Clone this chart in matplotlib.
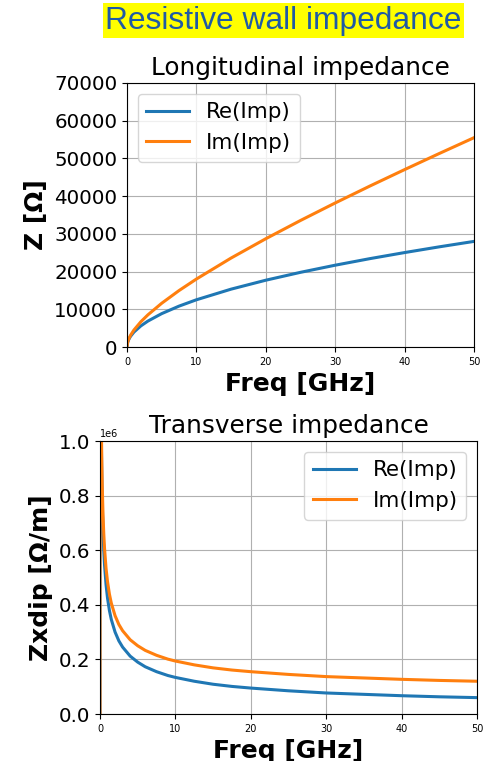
import matplotlib
matplotlib.use("Agg")
import matplotlib.pyplot as plt

# Longitudinal impedance (Ohm) vs frequency (GHz)
freq_long = [0, 0.1, 0.25, 0.5, 1, 2, 3, 5, 7.5, 10, 15, 20, 25, 30, 35, 40, 45, 50]
re_long = [0, 1250, 1980, 2800, 3960, 5600, 6860, 8850, 10840, 12520, 15340, 17710,
           19800, 21690, 23430, 25040, 26560, 28000]
im_long = [0, 1310, 2120, 3075, 4510, 6700, 8510, 11600, 14970, 18020, 23590, 28710,
           33550, 38190, 42680, 47040, 51310, 55500]
long_yticks = [0, 10000, 20000, 30000, 40000, 50000, 60000, 70000]

# Transverse dipolar impedance (units of 1e6 Ohm/m) vs frequency (GHz)
freq_trans = [0, 0.01, 0.05, 0.1, 0.15, 0.2, 0.25, 0.3, 0.4, 0.5, 0.6, 0.8, 1,
              1.25, 1.5, 2, 2.5, 3, 4, 5, 6, 7.5, 9, 10, 12.5, 15, 17.5, 20,
              25, 30, 35, 40, 45, 50]
re_trans = [0, 4.24, 1.896, 1.341, 1.095, 0.948, 0.848, 0.774, 0.670, 0.600,
            0.547, 0.474, 0.424, 0.379, 0.346, 0.300, 0.268, 0.245, 0.212,
            0.190, 0.173, 0.155, 0.141, 0.134, 0.120, 0.109, 0.101, 0.095,
            0.085, 0.077, 0.072, 0.067, 0.063, 0.060]
im_trans = [0, 4.30, 1.956, 1.401, 1.155, 1.008, 0.908, 0.834, 0.730, 0.660,
            0.607, 0.534, 0.484, 0.439, 0.406, 0.360, 0.328, 0.305, 0.272,
            0.250, 0.233, 0.215, 0.201, 0.194, 0.180, 0.169, 0.161, 0.155,
            0.145, 0.137, 0.132, 0.127, 0.123, 0.120]

fig = plt.figure(figsize=(4.83, 7.61), dpi=100)

fig.text(283.5 / 483, 0.973, 'Resistive wall impedance', ha='center', va='center',
         fontsize=22.9, color='#1f5aa6', family='Liberation Sans',
         bbox=dict(facecolor='yellow', edgecolor='none', pad=1.5))

# --- Longitudinal ---
ax1 = fig.add_axes([127 / 483, 414 / 761, 347 / 483, 264 / 761])
ax1.plot(freq_long, re_long, label='Re(Imp)', color='#1f77b4', linewidth=2.2)
ax1.plot(freq_long, im_long, label='Im(Imp)', color='#ff7f0e', linewidth=2.2)
ax1.set_xlim(0, 50)
ax1.set_ylim(0, 70000)
ax1.set_yticks(long_yticks)
ax1.set_title('Longitudinal impedance', fontsize=17.8)
ax1.set_xlabel('Freq [GHz]', fontsize=18, fontweight='bold')
ax1.set_ylabel('Z [Ω]', fontsize=18, fontweight='bold')
ax1.tick_params(axis='y', labelsize=14.3)
ax1.tick_params(axis='x', labelsize=7)
ax1.grid(True)
ax1.legend(loc='upper left', fontsize=15.4)

# --- Transverse ---
ax2 = fig.add_axes([100 / 483, 47 / 761, 377 / 483, 273 / 761])
ax2.plot(freq_trans, [v * 1e6 for v in re_trans], label='Re(Imp)', color='#1f77b4', linewidth=2.2)
ax2.plot(freq_trans, [v * 1e6 for v in im_trans], label='Im(Imp)', color='#ff7f0e', linewidth=2.2)
ax2.set_xlim(0, 50)
ax2.set_ylim(0, 1e6)
ax2.set_title('Transverse impedance', fontsize=17.8)
ax2.set_xlabel('Freq [GHz]', fontsize=18, fontweight='bold')
ax2.set_ylabel('Zxdip [Ω/m]', fontsize=18, fontweight='bold')
ax2.tick_params(axis='y', labelsize=14.3)
ax2.tick_params(axis='x', labelsize=7)
ax2.yaxis.get_offset_text().set_fontsize(7)
ax2.grid(True)
ax2.legend(loc='upper right', fontsize=15.4)

fig.savefig('out.png', dpi=100)
